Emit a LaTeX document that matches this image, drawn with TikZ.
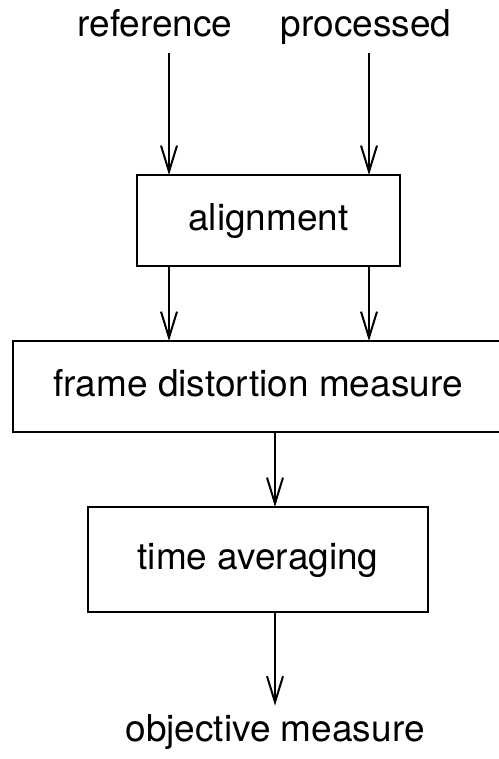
\documentclass[tikz,border=0pt]{standalone}
\usepackage{fontspec}
\setmainfont{TeX Gyre Heros}
\usetikzlibrary{arrows.meta,positioning}

\begin{document}
\begin{tikzpicture}[
        FlowArrow/.style={-{Straight Barb[length=13pt, width=8pt, line width=1pt]}, line width=1pt},
        ProcBlock/.style={draw, line width=1pt, minimum height=45.5pt, outer sep=0pt,
                          text height=13.5pt, text depth=3.9pt, font=\fontsize{18.5}{22}\selectfont},
        SignalLabel/.style={inner sep=4pt, anchor=base,
                          text height=13.5pt, text depth=3.9pt, font=\fontsize{18.5}{22}\selectfont},
        node distance = 37.5pt,
    ]
    \useasboundingbox (0,0) rectangle (249pt,-379.5pt);

    % inputs
    \node [SignalLabel] (ref)  at (77.5pt,-18.5pt) {reference};
    \node [SignalLabel] (proc) at (183pt,-18.5pt)  {processed};
    \coordinate (refline)  at ([xshift=7pt]ref.south);
    \coordinate (procline) at ([xshift=1.5pt]proc.south);

    % stages
    \node [ProcBlock, minimum width=131.5pt] (align) at (134.25pt,-110.25pt) {alignment};
    \node [ProcBlock, minimum width=245pt, below=of align, xshift=-5.25pt] (frame) {frame distortion measure};
    \node [ProcBlock, minimum width=170pt, minimum height=52.5pt, below=of frame] (avg) {time averaging};

    % output
    \node [SignalLabel] (obj) at (137.5pt,-370.5pt) {objective measure};

    \draw [FlowArrow] (refline)  -- (refline |- align.north);
    \draw [FlowArrow] (procline) -- (procline |- align.north);
    \draw [FlowArrow] (refline |- align.south)  -- (refline |- frame.north);
    \draw [FlowArrow] (procline |- align.south) -- (procline |- frame.north);
    \draw [FlowArrow] ([xshift=8.5pt]frame.south) -- ([xshift=8.5pt]avg.north);
    \draw [FlowArrow] ([xshift=8.5pt]avg.south) -- (obj.north);
\end{tikzpicture}
\end{document}
